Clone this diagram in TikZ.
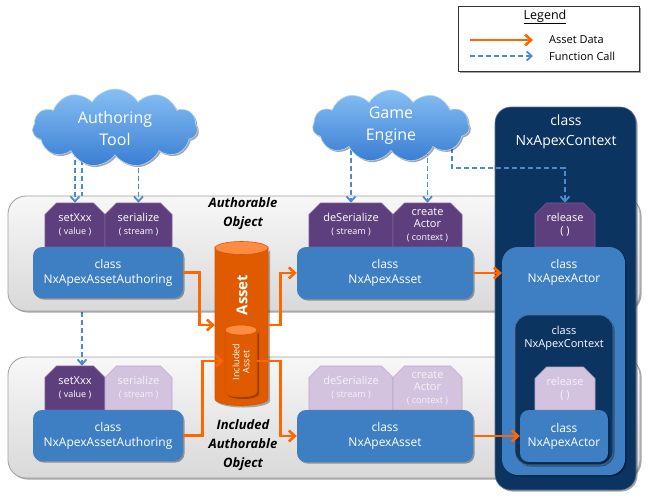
\documentclass[tikz,border=0pt]{standalone}
\usepackage{fontspec}
\setmainfont{Open Sans}
\usetikzlibrary{shapes.geometric,shapes.symbols,shapes.misc,arrows.meta,shadows,calc}
\pgfdeclarelayer{back}
\pgfdeclarelayer{mid}
\pgfdeclarelayer{front}
\pgfsetlayers{back,mid,main,front}
\definecolor{purpD}{HTML}{5E3F7D}
\definecolor{purpDb}{HTML}{7B5B98}
\definecolor{purpL}{HTML}{D3C3DF}
\definecolor{purpLb}{HTML}{B9A7CA}
\definecolor{purpLt}{HTML}{F6F1FA}
\definecolor{boxblue}{HTML}{3E7FC3}
\definecolor{navy}{HTML}{0C3461}
\definecolor{orng}{HTML}{FF6600}
\definecolor{orngL}{HTML}{FF8C42}
\definecolor{orngD}{HTML}{D95400}
\definecolor{dashb}{HTML}{4D8ACB}
\definecolor{cloudT}{HTML}{86BFF3}
\definecolor{cloudBt}{HTML}{3A7ED3}
\definecolor{panelb}{HTML}{A0A0A0}
\newcommand\smtxt[1]{{\fontsize{9}{11}\selectfont #1}}
\begin{document}
\begin{tikzpicture}[x=1pt,y=-1pt,
  every node/.style={inner sep=0pt},
  shad/.style={drop shadow={shadow xshift=1.5pt,shadow yshift=-1.5pt,opacity=.35,fill=black}},
  panel/.style={draw=panelb,line width=.8pt,rounded corners=18pt,top color=gray!6,bottom color=gray!30,shad},
  darkpanel/.style={fill=navy,draw=navy!70!white,line width=.6pt,rounded corners=16pt,shad},
  cls/.style={fill=boxblue,rounded corners=9pt,shad,text=white,align=center,font=\fontsize{12}{15}\selectfont},
  methD/.style={chamfered rectangle,chamfered rectangle corners={north west,north east},chamfered rectangle xsep=8pt,fill=purpD,draw=purpDb,line width=.6pt,text=white,align=center,font=\fontsize{11}{13}\selectfont},
  methL/.style={methD,fill=purpL,draw=purpLb,text=purpLt},
  cloudn/.style={cloud,cloud puffs=11,cloud puff arc=120,aspect=2.1,top color=cloudT,bottom color=cloudBt,draw=cloudT!60!white,line width=.6pt,text=white,align=center,font=\fontsize{16}{22}\selectfont,shad},
  fcall/.style={draw=dashb,line width=1.8pt,dash pattern=on 5pt off 3pt,-{Straight Barb[length=5pt,width=9pt]}},
  adata/.style={draw=orng,line width=2.6pt,-{Straight Barb[length=6pt,width=11pt]}},
  lbl/.style={text=white,align=center},
  obj/.style={align=center,font=\bfseries\itshape\fontsize{13}{19}\selectfont},
  cylbody/.style={left color=orng!88!black,middle color=orng,right color=orng!88!black,draw=orngD,line width=.6pt},
  cylend/.style={fill=orngL,draw=orngD,line width=.6pt}
]
\useasboundingbox (0,0) rectangle (649,499);

% legend
\node[draw=black!80,line width=.8pt,fill=white,minimum width=181,minimum height=65,shad] (legend) at (548.5,38.5) {};
\node[font=\fontsize{12.5}{14}\selectfont] (legT) at (545,17) {\underline{Legend}};
\coordinate (la1) at (470,40); \coordinate (la2) at (533,40);
\coordinate (lf1) at (470,56); \coordinate (lf2) at (533,56);
\draw[adata] (la1) -- (la2);
\draw[fcall] (lf1) -- (lf2);
\node[anchor=west,font=\fontsize{11}{13}\selectfont] (legA) at (549,40) {Asset Data};
\node[anchor=west,font=\fontsize{11}{13}\selectfont] (legF) at (549,56) {Function Call};

% panels
\begin{pgfonlayer}{back}
\node[panel,minimum width=632,minimum height=121] (p2) at (324,417.5) {};
\end{pgfonlayer}
\node[panel,minimum width=632,minimum height=115] (p1) at (324,253.5) {};

% clouds
\begin{pgfonlayer}{front}
\node[cloudn,minimum width=165,minimum height=78] (cloudA) at (115,128) {Authoring\\Tool};
\node[cloudn,minimum width=157,minimum height=72] (cloudB) at (391,126) {Game\\Engine};
\end{pgfonlayer}

% context panel
\node[darkpanel,minimum width=141,minimum height=383] (ctx1) at (565.5,298.5) {};
\node[lbl,font=\fontsize{14}{20}\selectfont] (ctx1T) at (566,132) {class\\NxApexContext};
\node[methD,minimum width=60,minimum height=44] (release1) at (565,225) {release\\( )};
\node[cls,minimum width=123,minimum height=228,rounded corners=16pt] (actor1) at (563.5,361) {};
\node[lbl,font=\fontsize{12}{14}\selectfont] (actor1T) at (564,272) {class\\NxApexActor};
\node[darkpanel,minimum width=98,minimum height=150,rounded corners=14pt] (ctx2) at (564,390) {};
\node[lbl,font=\fontsize{11}{13}\selectfont] (ctx2T) at (564,338) {class\\NxApexContext};
\node[methL,minimum width=60,minimum height=43] (release2) at (565,388.5) {release\\( )};
\node[cls,minimum width=88,minimum height=52,font=\fontsize{12}{14}\selectfont] (actor2) at (564,436) {class\\NxApexActor};

% top row
\node[methD,minimum width=60,minimum height=44] (setA) at (75,225) {setXxx\\\smtxt{( value )}};
\node[methD,minimum width=67,minimum height=44] (serA) at (138.5,225) {serialize\\\smtxt{( stream )}};
\node[cls,minimum width=150,minimum height=51] (authA) at (108,272.5) {class\\NxApexAssetAuthoring};
\node[methD,minimum width=84,minimum height=44] (desA) at (351,225) {deSerialize\\\smtxt{( stream )}};
\node[methD,minimum width=69,minimum height=44,font=\fontsize{11}{12.5}\selectfont] (creA) at (427.5,225) {create\\Actor\\\smtxt{( context )}};
\node[cls,minimum width=176,minimum height=52] (assetA) at (385,273) {class\\NxApexAsset};

% bottom row
\node[methD,minimum width=60,minimum height=44] (setB) at (75,388) {setXxx\\\smtxt{( value )}};
\node[methL,minimum width=67,minimum height=44] (serB) at (138.5,388) {serialize\\\smtxt{( stream )}};
\node[cls,minimum width=150,minimum height=51] (authB) at (108,435.5) {class\\NxApexAssetAuthoring};
\node[methL,minimum width=84,minimum height=44] (desB) at (351,388) {deSerialize\\\smtxt{( stream )}};
\node[methL,minimum width=69,minimum height=44,font=\fontsize{11}{12.5}\selectfont] (creB) at (427.5,388) {create\\Actor\\\smtxt{( context )}};
\node[cls,minimum width=176,minimum height=52] (assetB) at (385,436) {class\\NxApexAsset};

% cylinders (drawn directly; invisible nodes give them names)
\node[minimum width=53,minimum height=163] (asset) at (241.5,325) {};
\fill[black,opacity=.3,shift={(2,2)}] (215,248) -- (215,399) arc[start angle=180,end angle=0,x radius=26.5,y radius=6.5] -- (268,248) arc[start angle=0,end angle=180,x radius=26.5,y radius=6.5] -- cycle;
\path[cylbody] (215,248) -- (215,399) arc[start angle=180,end angle=0,x radius=26.5,y radius=6.5] -- (268,248) arc[start angle=0,end angle=180,x radius=26.5,y radius=6.5] -- cycle;
\path[cylend] (241.5,248) ellipse[x radius=26.5,y radius=6.5];
\node[rotate=90,text=white,font=\bfseries\fontsize{15}{17}\selectfont] (assetT) at (242,295) {Asset};

\node[minimum width=32,minimum height=72] (inc) at (241,361) {};
\fill[black,opacity=.3,shift={(2,2)}] (225,330) -- (225,392) arc[start angle=180,end angle=0,x radius=16,y radius=5] -- (257,330) arc[start angle=0,end angle=180,x radius=16,y radius=5] -- cycle;
\path[cylbody] (225,330) -- (225,392) arc[start angle=180,end angle=0,x radius=16,y radius=5] -- (257,330) arc[start angle=0,end angle=180,x radius=16,y radius=5] -- cycle;
\path[cylend] (241,330) ellipse[x radius=16,y radius=5];
\node[rotate=90,text=white,align=center,font=\fontsize{9}{10}\selectfont] (incT) at (241,362) {Included\\Asset};

% labels
\node[obj] (objA) at (243,214) {Authorable\\Object};
\node[obj] (objB) at (243,445) {Included\\Authorable\\Object};

% asset data
\draw[adata] (authA.east) -- ++(16,0) |- (asset.west);
\draw[adata] (asset.east) -- ++(12,0) |- (assetA.west);
\draw[adata] (authB.east) -- ++(19,0) |- ([xshift=-1pt]inc.west);
\draw[adata] (inc.east) -- ++(23,0) |- (assetB.west);
\draw[adata] (assetA.east) -- (actor1.west |- assetA.east);
\draw[adata] (assetB.east) -- (actor2.west |- assetB.east);

% function calls
\draw[fcall] (setA.north |- cloudA.center) -- (setA.north);
\draw[fcall] (serA.north |- cloudA.center) -- (serA.north);
\begin{pgfonlayer}{mid}
\draw[fcall] ([xshift=7pt]setA.north |- cloudA.center) -- ([xshift=7pt]setB.north);
\end{pgfonlayer}
\draw[fcall] (desA.north |- cloudB.center) -- (desA.north);
\draw[fcall] (creA.north |- cloudB.center) -- (creA.north);
\draw[fcall] ($(cloudB.center)+(61,6)$) |- ($(release1.north)+(0,-35)$) -- (release1.north);
\end{tikzpicture}
\end{document}
